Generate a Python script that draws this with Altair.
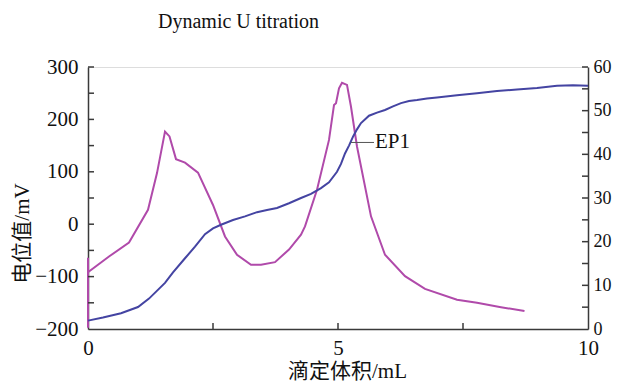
import altair as alt
import pandas as pd

# Potential curve (left axis, mV)
vol_pot = [0, 0.3, 0.66, 1.0, 1.22, 1.54, 1.7, 1.94, 2.14, 2.34, 2.5, 2.66, 2.9, 3.14, 3.38, 3.58, 3.78, 4.02, 4.26, 4.46, 4.66, 4.82, 4.98, 5.06, 5.14, 5.22, 5.30, 5.38, 5.46, 5.62, 5.78, 5.94, 6.1, 6.26, 6.42, 6.58, 6.78, 6.98, 7.38, 7.78, 8.18, 8.58, 8.98, 9.38, 9.7, 10.0]
pot = [-184, -178, -170, -158, -142, -112, -92, -65, -43, -19, -8, -1, 8, 15, 23, 27, 31, 40, 50, 58, 69, 80, 100, 115, 135, 150, 167, 181, 193, 207, 213, 218, 225, 231, 235, 237, 240, 242, 246, 250, 254, 257, 260, 264, 265, 264]

# First derivative curve (right axis)
vol_der = [0, 0, 0, 0.42, 0.82, 1.2, 1.38, 1.54, 1.63, 1.76, 1.94, 2.2, 2.5, 2.74, 2.98, 3.26, 3.46, 3.74, 4.02, 4.26, 4.34, 4.58, 4.82, 4.92, 4.96, 5.02, 5.08, 5.18, 5.26, 5.38, 5.66, 5.94, 6.34, 6.74, 7.38, 7.78, 8.26, 8.73]
der = [16.3, 0.3, 13.0, 16.6, 19.8, 27.3, 35.7, 45.2, 44.1, 38.9, 38.1, 35.8, 28.4, 21.2, 17.0, 14.7, 14.7, 15.3, 18.2, 21.6, 23.5, 31.9, 43.3, 51.3, 51.7, 55.1, 56.4, 55.9, 50.9, 41.8, 25.8, 17.0, 12.1, 9.2, 6.7, 6.0, 5.0, 4.1]

left_ticks = [-150, -100, -50, 0, 50, 100, 150, 200, 250, 300]
right_ticks = [5, 10, 15, 20, 25, 30, 35, 40, 45, 50, 55, 60]
x_ticks = [2.5, 5, 7.5]

ep_label = "EP1"
ep_x, ep_x2, ep_y = 5.26, 5.72, 156

W, H = 500, 262
SERIF = "Liberation Serif, Times New Roman, Noto Sans CJK SC, serif"
AX = "#3a3a3a"

pot_df = pd.DataFrame({"v": vol_pot, "p": pot})
der_df = pd.DataFrame({"v": vol_der, "d": der, "o": list(range(len(der)))})
lt_df = pd.DataFrame({"t": left_ticks})
rt_df = pd.DataFrame({"t": right_ticks})
xt_df = pd.DataFrame({"t": x_ticks})
ep_df = pd.DataFrame({"v": [ep_x], "v2": [ep_x2], "p": [ep_y], "lab": [ep_label]})

xscale = alt.Scale(domain=[0, 10], nice=False)
xaxis = alt.Axis(values=[0, 5, 10], ticks=False, grid=False, domainColor=AX, domainWidth=1.5,
                 labelFont=SERIF, labelFontSize=21, labelColor="#111", labelPadding=8,
                 title="滴定体积/mL", titleFont=SERIF, titleFontSize=21, titleFontWeight="normal",
                 titleColor="#111", titleX=259, titleY=48, titleBaseline="alphabetic", labelFlush=False)
lscale = alt.Scale(domain=[-200, 300], nice=False)
laxis = alt.Axis(values=[-200, -100, 0, 100, 200, 300], ticks=False, grid=False, domainColor=AX,
                 domainWidth=1.5, labelFont=SERIF, labelFontSize=21, labelColor="#111", labelPadding=10,
                 title="电位值/mV", titleFont=SERIF, titleFontSize=21, titleFontWeight="normal",
                 titleColor="#111", titleX=-60, titleY=166, titleAlign="center", titleAngle=270,
                 titleBaseline="alphabetic", labelFlush=False)
rscale = alt.Scale(domain=[0, 60], nice=False)
raxis = alt.Axis(values=[0, 10, 20, 30, 40, 50, 60], ticks=False, grid=False, domainColor=AX,
                 domainWidth=1.5, labelFont=SERIF, labelFontSize=18, labelColor="#111", labelPadding=5,
                 title=None, orient="right", labelFlush=False)

X = alt.X("v:Q", scale=xscale, axis=xaxis)

pot_line = alt.Chart(pot_df).mark_line(color="#4444a2", strokeWidth=2).encode(
    x=X, y=alt.Y("p:Q", scale=lscale, axis=laxis))
lticks = alt.Chart(lt_df).mark_rule(color=AX, strokeWidth=1.5).encode(
    y=alt.Y("t:Q", scale=lscale, axis=laxis), x=alt.value(0), x2=alt.value(6))
xticks = alt.Chart(xt_df).mark_rule(color=AX, strokeWidth=1.5).encode(
    x=alt.X("t:Q", scale=xscale, axis=xaxis), y=alt.value(H), y2=alt.value(H - 6))
ep_rule = alt.Chart(ep_df).mark_rule(color="#555", strokeWidth=1).encode(
    x=X, x2="v2:Q", y=alt.Y("p:Q", scale=lscale, axis=laxis))
ep_text = alt.Chart(ep_df).mark_text(align="left", baseline="middle", dx=1, font=SERIF,
                                     fontSize=21, color="#111").encode(
    x=alt.X("v2:Q", scale=xscale, axis=xaxis), y=alt.Y("p:Q", scale=lscale, axis=laxis), text="lab:N")
left_group = alt.layer(pot_line, lticks, xticks, ep_rule, ep_text)

der_line = alt.Chart(der_df).mark_line(color="#b04aaa", strokeWidth=2).encode(
    x=X, y=alt.Y("d:Q", scale=rscale, axis=raxis), order="o:Q")
rticks = alt.Chart(rt_df).mark_rule(color=AX, strokeWidth=1.5).encode(
    y=alt.Y("t:Q", scale=rscale, axis=raxis), x=alt.value(W - 6), x2=alt.value(W))
right_group = alt.layer(der_line, rticks)

chart = alt.layer(right_group, left_group).resolve_scale(y="independent").properties(
    width=W, height=H,
    title=alt.TitleParams("Dynamic U titration", anchor="start", frame="group", dx=70, offset=24,
                          font=SERIF, fontSize=20, fontWeight="normal", color="#111"),
    autosize=alt.AutoSizeParams(type="none"),
    padding={"left": 80, "top": 59, "right": 25, "bottom": 52},
).configure_view(stroke=None).configure(background="white")

chart.save("out.html", embed_options={"renderer": "svg", "actions": False})
